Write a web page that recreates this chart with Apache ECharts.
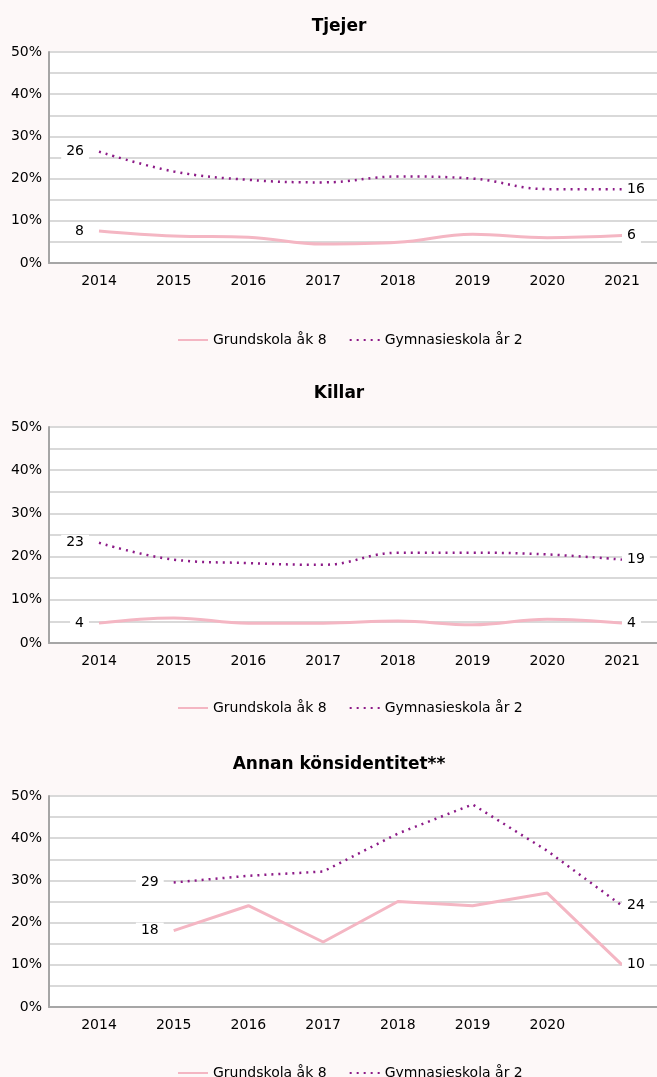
<!DOCTYPE html>
<html>
<head>
<meta charset="utf-8">
<script src="https://cdn.jsdelivr.net/npm/echarts@6/dist/echarts.min.js"></script>
<style>
    html, body {margin: 0; padding: 0; background: #fdf8f8;}
    #chart {width: 657px; height: 1077px;}
</style>
</head>
<body>
<div id="chart"></div>
<script>
// årtal på x-axeln
var years = [2014, 2015, 2016, 2017, 2018, 2019, 2020, 2021];
var yearLabels = ['2014', '2015', '2016', '2017', '2018', '2019', '2020', '2021'];
// sista året saknar etikett i tredje diagrammet
var yearLabelsAnnan = ['2014', '2015', '2016', '2017', '2018', '2019', '2020'];
var seriesNames = ['Grundskola åk 8', 'Gymnasieskola år 2'];
var titles = ['Tjejer', 'Killar', 'Annan könsidentitet**'];

// värden i procent
var tjejerGrund = [7.6, 6.4, 6.1, 4.5, 4.9, 6.8, 6.0, 6.5];
var tjejerGymn = [26.4, 21.7, 19.7, 19.1, 20.5, 20.0, 17.5, 17.5];
var killarGrund = [4.6, 5.8, 4.6, 4.6, 5.1, 4.2, 5.5, 4.6];
var killarGymn = [23.2, 19.3, 18.5, 18.1, 20.9, 20.9, 20.5, 19.3];
var annanGrund = [null, 18.1, 24.0, 15.4, 25.0, 24.0, 27.0, 10.0];
var annanGymn = [null, 29.5, 31.1, 32.1, 41.1, 48.0, 37.0, 24.0];

// dataetiketter vid första och sista punkten
var tjejerGrundLabels = ['8', '6'];
var tjejerGymnLabels = ['26', '16'];
var killarGrundLabels = ['4', '4'];
var killarGymnLabels = ['23', '19'];
var annanGrundLabels = ['18', '10'];
var annanGymnLabels = ['29', '24'];

var yTicks = [0, 10, 20, 30, 40, 50];

var FONT = '"DejaVu Sans", Verdana, sans-serif';
var PINK = '#f4b6c3';
var PURPLE = '#8c1a87';

// panelernas lägen (px)
var panels = [
    {top: 52, bottom: 263, titleTop: 13, legendTop: 328, smooth: 0.4},
    {top: 427, bottom: 643, titleTop: 380, legendTop: 696, smooth: 0.4},
    {top: 796, bottom: 1007, titleTop: 751, legendTop: 1061, smooth: false}
];

function pairs(values) {
    return values.map(function (v, i) {
        return [years[i], v];
    });
}

// etikett på första och sista punkten med värde
function withLabels(values, labels) {
    var data = pairs(values);
    var first = -1;
    var last = -1;
    values.forEach(function (v, i) {
        if (v !== null) {
            if (first < 0) {
                first = i;
            }
            last = i;
        }
    });
    data[first] = {
        value: data[first],
        label: {show: true, position: 'left', distance: 10, formatter: labels[0]}
    };
    data[last] = {
        value: data[last],
        label: {show: true, position: 'right', distance: 0, formatter: labels[1]}
    };
    return data;
}

var seriesData = [
    [withLabels(tjejerGrund, tjejerGrundLabels), withLabels(tjejerGymn, tjejerGymnLabels)],
    [withLabels(killarGrund, killarGrundLabels), withLabels(killarGymn, killarGymnLabels)],
    [withLabels(annanGrund, annanGrundLabels), withLabels(annanGymn, annanGymnLabels)]
];
var xLabelSets = [yearLabels, yearLabels, yearLabelsAnnan];

var option = {
    backgroundColor: '#fdf8f8',
    animation: false,
    textStyle: {fontFamily: FONT},
    title: [],
    legend: [],
    grid: [],
    xAxis: [],
    yAxis: [],
    series: []
};

panels.forEach(function (p, k) {
    option.title.push({
        text: titles[k],
        left: 334,
        top: p.titleTop,
        textAlign: 'center',
        textStyle: {fontFamily: FONT, fontSize: 17, fontWeight: 'bold', color: '#000'}
    });
    option.grid.push({
        left: 49,
        right: 0,
        top: p.top,
        height: p.bottom - p.top,
        show: true,
        backgroundColor: '#ffffff',
        borderWidth: 0
    });
    var customYears = xLabelSets[k].map(function (s) {
        return Number(s);
    });
    option.xAxis.push({
        type: 'value',
        gridIndex: k,
        min: 2013.331,
        max: 2021.468,
        axisLine: {show: true, onZero: false, lineStyle: {color: '#a6a6a6', width: 2}},
        axisTick: {show: false},
        splitLine: {show: false},
        axisLabel: {
            customValues: customYears,
            formatter: function (v) {
                return String(Math.round(v));
            },
            margin: 11,
            fontFamily: FONT,
            fontSize: 14,
            color: '#000'
        }
    });
    option.yAxis.push({
        type: 'value',
        gridIndex: k,
        min: yTicks[0],
        max: yTicks[yTicks.length - 1],
        interval: 10,
        axisLine: {show: true, lineStyle: {color: '#a6a6a6', width: 2}},
        axisTick: {show: false},
        minorTick: {show: false, splitNumber: 2},
        splitLine: {show: true, lineStyle: {color: '#d9d9d9', width: 2}},
        minorSplitLine: {show: true, lineStyle: {color: '#d9d9d9', width: 2}},
        axisLabel: {
            formatter: '{value}%',
            margin: 7,
            fontFamily: FONT,
            fontSize: 14,
            color: '#000'
        }
    });
    var labelStyle = {
        fontFamily: FONT,
        fontSize: 14,
        color: '#000',
        backgroundColor: '#ffffff',
        padding: [1, 5]
    };
    option.series.push({
        name: seriesNames[0],
        type: 'line',
        xAxisIndex: k,
        yAxisIndex: k,
        data: seriesData[k][0],
        symbol: 'circle',
        symbolSize: 0,
        showSymbol: true,
        smooth: p.smooth,
        lineStyle: {color: PINK, width: 3},
        itemStyle: {color: PINK},
        label: labelStyle,
        z: 3
    });
    option.series.push({
        name: seriesNames[1],
        type: 'line',
        xAxisIndex: k,
        yAxisIndex: k,
        data: seriesData[k][1],
        symbol: 'circle',
        symbolSize: 0,
        showSymbol: true,
        smooth: p.smooth,
        lineStyle: {color: PURPLE, width: 2.5, type: [2, 5], cap: 'butt'},
        itemStyle: {color: PURPLE},
        label: labelStyle,
        z: 4
    });
    option.legend.push({
        data: seriesNames,
        top: p.legendTop,
        left: 172,
        itemWidth: 30,
        itemHeight: 14,
        itemGap: 22,
        itemStyle: {opacity: 0},
        textStyle: {fontFamily: FONT, fontSize: 14, color: '#000'}
    });
});

var chart = echarts.init(document.getElementById('chart'));
chart.setOption(option);
</script>
</body>
</html>
